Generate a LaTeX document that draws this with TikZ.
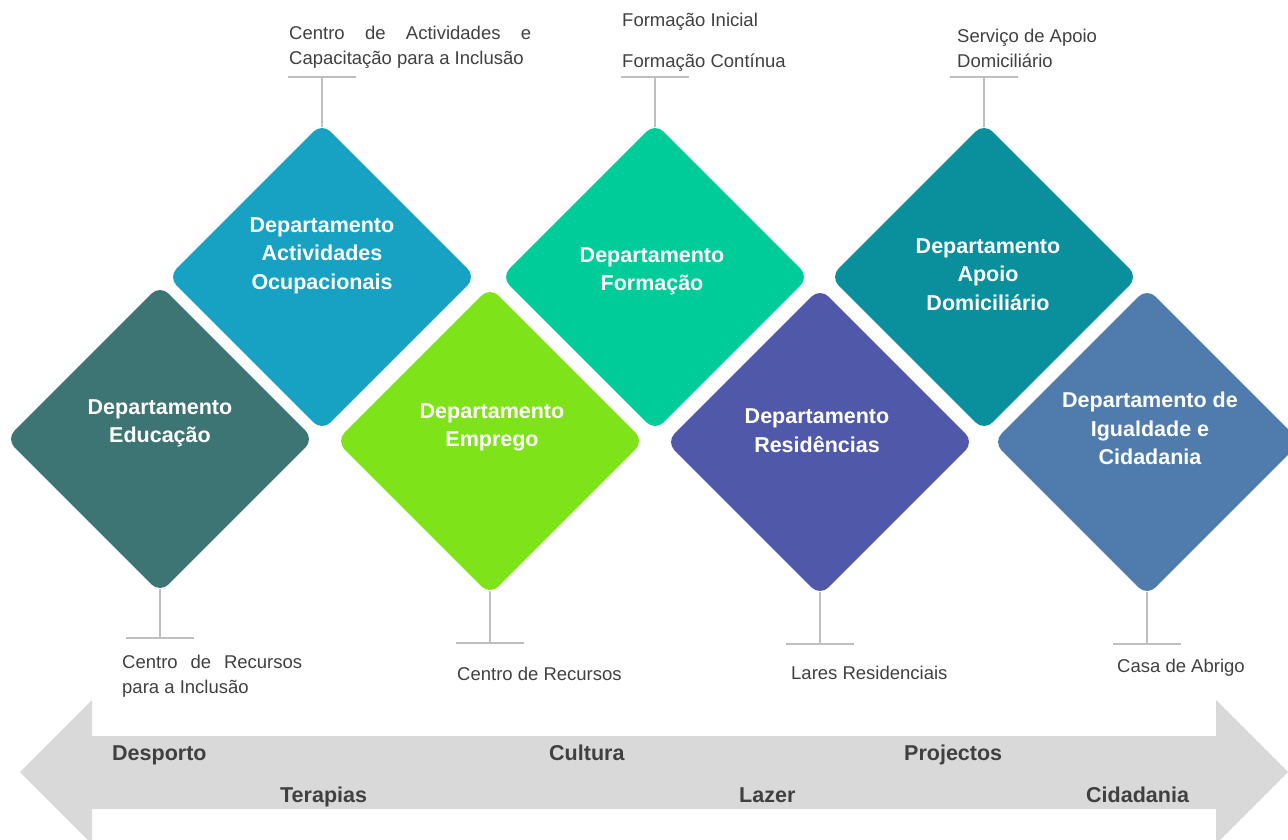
\documentclass[tikz,border=0pt]{standalone}
\usepackage{fontspec}
\setmainfont{Liberation Sans}
\usetikzlibrary{shapes.geometric}

\definecolor{educcol}{HTML}{3D7574}
\definecolor{ocupcol}{HTML}{17A2C4}
\definecolor{emprcol}{HTML}{7FE31A}
\definecolor{formcol}{HTML}{00CC99}
\definecolor{residcol}{HTML}{5059A9}
\definecolor{apoiocol}{HTML}{0A8F9D}
\definecolor{igualcol}{HTML}{4F7BAD}
\definecolor{bandgray}{HTML}{D9D9D9}
\definecolor{stemgray}{HTML}{BFBFBF}
\definecolor{notegray}{HTML}{404040}

\tikzset{
  dept/.style={diamond, minimum width=308pt, minimum height=308pt, inner sep=0pt, rounded corners=12pt},
  depttext/.style={text=white, font=\fontsize{21.5}{28.5}\selectfont\bfseries, align=center, inner sep=0pt},
  stem/.style={draw=stemgray, line width=2pt},
  note/.style={text=notegray, font=\fontsize{18.5}{25}\selectfont, anchor=base west, inner sep=0pt},
  bandtext/.style={text=notegray, font=\fontsize{21.5}{26}\selectfont\bfseries, anchor=base west, inner sep=0pt}
}

\begin{document}
\begin{tikzpicture}[x=1pt,y=-1pt]
\useasboundingbox (0,0) rectangle (1288,840);
\clip (0,0) rectangle (1288,840);

% double arrow along the bottom
\fill[bandgray] (20,772) -- (92,700) -- (92,736) -- (1216,736) -- (1216,700) -- (1288,772)
  -- (1216,844) -- (1216,809) -- (92,809) -- (92,844) -- cycle;

\foreach \n/\cx/\cy/\col in {educ/160/439/educcol, ocup/322/277/ocupcol, empr/490/441/emprcol,
    form/655/277/formcol, resid/820/442/residcol, apoio/984/277/apoiocol, igual/1147/442/igualcol} {
  \node[dept, fill=\col] (\n) at (\cx,\cy) {};
}

\node[depttext] (educ-t) at (160,423.5) {Departamento\\Educação};
\node[depttext] (ocup-t) at (322,255.5) {Departamento\\Actividades\\Ocupacionais};
\node[depttext] (empr-t) at (492,427.5) {Departamento\\Emprego};
\node[depttext] (form-t) at (652,271.5) {Departamento\\Formação};
\node[depttext] (resid-t) at (817,430.5) {Departamento\\Residências};
\node[depttext] (apoio-t) at (988,274.5) {Departamento\\Apoio\\Domiciliário};
\node[depttext] (igual-t) at (1150,428.5) {Departamento de\\Igualdade e\\Cidadania};

% stems above and below
\foreach \n in {ocup, form, apoio} {
  \coordinate (\n-bar) at (\n.north |- 0,77);
  \draw[stem] ([yshift=-4.5pt]\n.north) -- (\n-bar);
  \draw[stem] ([xshift=-34pt]\n-bar) -- ([xshift=34pt]\n-bar);
}
\foreach \n/\h in {educ/638, empr/643, resid/644, igual/644} {
  \coordinate (\n-bar) at (\n.south |- 0,\h);
  \draw[stem] ([yshift=4.5pt]\n.south) -- (\n-bar);
  \draw[stem] ([xshift=-34pt]\n-bar) -- ([xshift=34pt]\n-bar);
}

\node[note, text width=242pt, align=justify] (ocup-n) at (289,40)
  {Centro de Actividades e\linebreak Capacitação para a Inclusão};
\node[note, align=left] (form-n) at (622,68) {Formação Inicial\\[16pt]Formação Contínua};
\node[note, align=left] (apoio-n) at (957,68) {Serviço de Apoio\\Domiciliário};
\node[note, text width=180pt, align=justify] (educ-n) at (122,668)
  {Centro de Recursos\linebreak para a Inclusão};
\node[note] (empr-n) at (457,680) {Centro de Recursos};
\node[note] (resid-n) at (791,679) {Lares Residenciais};
\node[note] (igual-n) at (1117,672) {Casa de Abrigo};

\node[bandtext] (desporto) at (112,760) {Desporto};
\node[bandtext] (cultura) at (549,760) {Cultura};
\node[bandtext] (projectos) at (904,760) {Projectos};
\node[bandtext] (terapias) at (280,802) {Terapias};
\node[bandtext] (lazer) at (739,802) {Lazer};
\node[bandtext] (cidadania) at (1086,802) {Cidadania};
\end{tikzpicture}
\end{document}
